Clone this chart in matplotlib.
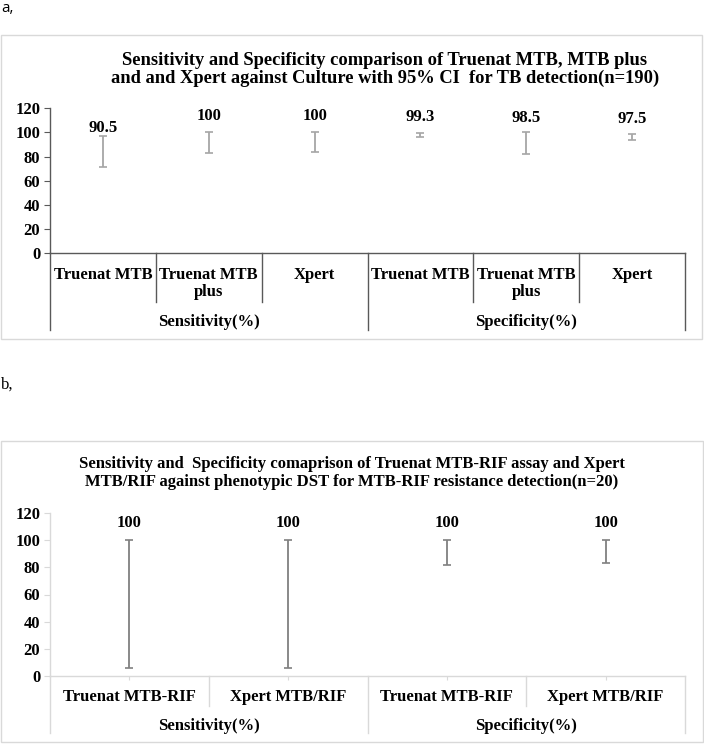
import numpy as np
import matplotlib.pyplot as plt
from matplotlib.patches import Rectangle

W, H = 704, 744
SERIF = 'Liberation Serif'

# panel a data
cats_a = ['Truenat MTB', 'Truenat MTB\nplus', 'Xpert', 'Truenat MTB', 'Truenat MTB\nplus', 'Xpert']
groups_a = ['Sensitivity(%)', 'Specificity(%)']
val_a = np.array([90.5, 100, 100, 99.3, 98.5, 97.5])
lo_a = np.array([71.7, 83.3, 84.1, 96.0, 81.9, 93.8])
hi_a = np.array([97.3, 100, 100, 99.8, 100, 99.0])
lbl_a = ['90.5', '100', '100', '99.3', '98.5', '97.5']
title_a = ('Sensitivity and Specificity comparison of Truenat MTB, MTB plus\n'
           'and and Xpert against Culture with 95% CI  for TB detection(n=190)')

# panel b data
cats_b = ['Truenat MTB-RIF', 'Xpert MTB/RIF', 'Truenat MTB-RIF', 'Xpert MTB/RIF']
groups_b = ['Sensitivity(%)', 'Specificity(%)']
val_b = np.array([100, 100, 100, 100])
lo_b = np.array([6.0, 6.0, 81.8, 83.5])
hi_b = np.array([100, 100, 100, 100])
lbl_b = ['100', '100', '100', '100']
title_b = ('Sensitivity and  Specificity comaprison of Truenat MTB-RIF assay and Xpert\n'
           'MTB/RIF against phenotypic DST for MTB-RIF resistance detection(n=20)')

yticks = [0, 20, 40, 60, 80, 100, 120]

fig = plt.figure(figsize=(W / 100, H / 100), dpi=100)

# outer chart frames
for (x0, y0, x1, y1) in [(1, 35, 702, 339), (1, 441, 703, 742)]:
    fig.patches.append(Rectangle((x0 / W, 1 - y1 / H), (x1 - x0) / W, (y1 - y0) / H,
                                 transform=fig.transFigure, fill=False,
                                 edgecolor='#d9d9d9', lw=1))

fig.text(1 / W, 1 - 8 / H, 'a,', family='Open Sans', fontsize=11, va='center', ha='left')
fig.text(1 / W, 1 - 385 / H, 'b,', family=SERIF, fontsize=12, va='center', ha='left')

# title a is letter-spaced in the original, so a slightly larger size
fig.text(385 / W, 1 - 69.5 / H, title_a, family=SERIF, fontweight='bold', fontsize=13.3,
         ha='center', va='center', linespacing=1.1)
fig.text(352 / W, 1 - 473 / H, title_b, family=SERIF, fontweight='bold', fontsize=12,
         ha='center', va='center', linespacing=1.22)


def panel(box, cats, groups, vals, lo, hi, labels, axc, errc, lbl_off,
          cat_dy, cat_va, inner_len, outer_len, grp_dy, center_ticks):
    left, y0, right, y120 = box
    hpx = y0 - y120
    ax = fig.add_axes([left / W, 1 - y0 / H, (right - left) / W, hpx / H])
    n = len(cats)
    x = np.arange(n)
    ax.set_xlim(-0.5, n - 0.5)
    ax.set_ylim(0, 120)
    for s in ['top', 'right']:
        ax.spines[s].set_visible(False)
    for s in ['left', 'bottom']:
        ax.spines[s].set_color(axc)
        ax.spines[s].set_linewidth(1)
    ax.set_yticks(yticks)
    ax.set_yticklabels([str(t) for t in yticks], family=SERIF, fontweight='bold', fontsize=12)
    ax.tick_params(axis='y', length=4, color=axc, pad=3)
    if center_ticks:
        ax.set_xticks(x)
        ax.tick_params(axis='x', length=3, color=axc, labelbottom=False)
    else:
        ax.set_xticks([])

    ax.errorbar(x, vals, yerr=[vals - lo, hi - vals], fmt='none', ecolor=errc,
                elinewidth=1.3, capsize=2.6, capthick=1.2)
    for xi, v, t in zip(x, vals, labels):
        ax.annotate(t, (xi, v), xytext=(0, lbl_off), textcoords='offset pixels',
                    ha='center', va='center', family=SERIF, fontweight='bold', fontsize=12)

    tr = ax.get_xaxis_transform()
    per = n // len(groups)
    for i in range(n + 1):
        ln = outer_len if i % per == 0 else inner_len
        ax.plot([i - 0.5, i - 0.5], [0, -ln / hpx], transform=tr, clip_on=False,
                color=axc, lw=1)
    for xi, c in zip(x, cats):
        ax.text(xi, -cat_dy / hpx, c, transform=tr, ha='center', va=cat_va,
                family=SERIF, fontweight='bold', fontsize=12, linespacing=1.12)
    for g, name in enumerate(groups):
        ax.text(g * per + (per - 1) / 2, -grp_dy / hpx, name, transform=tr,
                ha='center', va='center', family=SERIF, fontweight='bold', fontsize=12)
    return ax


panel((50, 253.3, 685, 108.3), cats_a, groups_a, val_a, lo_a, hi_a, lbl_a,
      '#595959', '#a6a6a6', 16, 13.5, 'top', 49, 77, 69, False)
panel((50, 675.7, 685, 513.3), cats_b, groups_b, val_b, lo_b, hi_b, lbl_b,
      '#d9d9d9', '#808080', 17, 21, 'center', 30, 57, 50.5, True)

fig.savefig('out.png', dpi=100)
